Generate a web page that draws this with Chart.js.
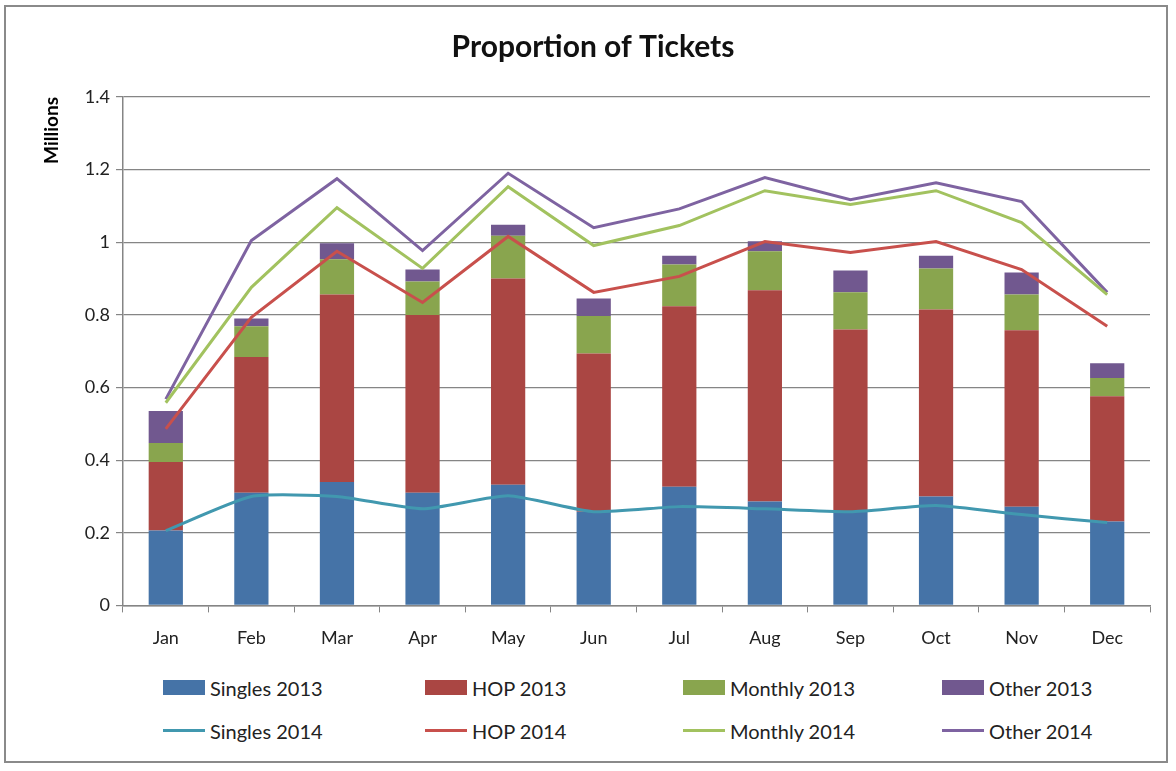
<!DOCTYPE html>
<html>
<head>
<meta charset="utf-8">
<script src="https://cdn.jsdelivr.net/npm/chart.js@4.4.1/dist/chart.umd.min.js"></script>
<style>
  html, body { margin: 0; padding: 0; background: #fff; }
  body { width: 1176px; height: 771px; position: relative; overflow: hidden; font-family: Lato, "Open Sans", sans-serif; }
  #frame { position: absolute; left: 4px; top: 5px; width: 1164px; height: 758px; border: 2px solid #8a8a8a; box-sizing: border-box; }
  #wrap { position: absolute; left: 0; top: 0; width: 1176px; height: 665px; }
  #legend { position: absolute; left: 163px; top: 666px; display: grid;
            grid-template-columns: 262px 258px 259px 220px; grid-auto-rows: 43px; }
  .item { display: flex; align-items: center; font-size: 20px; color: #222; }
  .swatch { width: 42px; height: 15px; margin-right: 5px; }
  .lineswatch { width: 42px; height: 3px; margin: 6px 5px 6px 0; }
</style>
</head>
<body>
<div id="frame"></div>
<div id="wrap"><canvas id="ticketsChart"></canvas></div>
<div id="legend"></div>
<script>
/* ===== Data (millions) ===== */
const months = ['Jan','Feb','Mar','Apr','May','Jun','Jul','Aug','Sep','Oct','Nov','Dec'];

// 2013 stacked bars (segment sizes)
const singles2013 = [0.206,0.310,0.340,0.310,0.332,0.258,0.327,0.286,0.258,0.300,0.272,0.231];
const hop2013     = [0.189,0.374,0.516,0.490,0.568,0.436,0.497,0.582,0.502,0.515,0.486,0.345];
const monthly2013 = [0.052,0.085,0.097,0.092,0.118,0.103,0.115,0.107,0.102,0.113,0.098,0.050];
const other2013   = [0.088,0.021,0.044,0.033,0.030,0.048,0.024,0.028,0.060,0.035,0.061,0.041];

// 2014 lines (running totals, as plotted)
const singles2014 = [0.206,0.300,0.300,0.266,0.302,0.258,0.272,0.266,0.258,0.275,0.250,0.228];
const hop2014     = [0.486,0.793,0.975,0.834,1.016,0.862,0.906,1.002,0.972,1.002,0.925,0.769];
const monthly2014 = [0.558,0.876,1.095,0.928,1.153,0.991,1.046,1.142,1.104,1.142,1.054,0.856];
const other2014   = [0.568,1.005,1.175,0.977,1.190,1.040,1.092,1.178,1.117,1.164,1.112,0.862];

const yTicks = [0, 0.2, 0.4, 0.6, 0.8, 1, 1.2, 1.4];

const FONT = 'Lato, "Open Sans", sans-serif';
const GRID = '#858585';

function barSet(label, data, color) {
  return { type: 'bar', label, data, backgroundColor: color, stack: 'y2013', order: 2,
           barPercentage: 0.4, categoryPercentage: 1.0, borderWidth: 0 };
}
function lineSet(label, data, color, tension) {
  return { type: 'line', label, data, borderColor: color, backgroundColor: color, stack: label,
           order: 1, borderWidth: 3, pointRadius: 0, tension: tension || 0, fill: false };
}

const datasets = [
  barSet('Singles 2013', singles2013, '#4573A7'),
  barSet('HOP 2013', hop2013, '#AA4643'),
  barSet('Monthly 2013', monthly2013, '#89A54E'),
  barSet('Other 2013', other2013, '#71588F'),
  lineSet('Singles 2014', singles2014, '#4198AF', 0.18),
  lineSet('HOP 2014', hop2014, '#C8504C'),
  lineSet('Monthly 2014', monthly2014, '#A2C25F'),
  lineSet('Other 2014', other2014, '#7E63A1'),
];

/* ===== Chart ===== */
const chart = new Chart(document.getElementById('ticketsChart'), {
  type: 'bar',
  data: { labels: months, datasets },
  options: {
    responsive: true,
    maintainAspectRatio: false,
    animation: false,
    layout: { padding: { left: 36, right: 26, top: 0, bottom: 1 } },
    plugins: {
      legend: { display: false },
      tooltip: { enabled: false },
      title: {
        display: true,
        text: 'Proportion of Tickets',
        color: '#111',
        font: { family: FONT, size: 30, weight: 'bold' },
        padding: { top: 29, bottom: 32 },
      },
    },
    scales: {
      x: {
        stacked: true,
        border: { color: GRID, width: 1.5 },
        grid: { offset: true, drawOnChartArea: false, drawTicks: true, tickLength: 7, color: GRID },
        ticks: { color: '#222', padding: 15, font: { family: FONT, size: 18 } },
      },
      y: {
        stacked: true,
        min: 0, max: 1.4,
        afterBuildTicks: (scale) => { scale.ticks = yTicks.map(v => ({ value: v })); },
        afterFit: (scale) => { scale.width = 87; },
        border: { color: GRID, width: 1.5 },
        grid: { color: GRID, lineWidth: 1.2, tickLength: 7 },
        ticks: { color: '#222', padding: 6, font: { family: FONT, size: 18 },
                 callback: v => String(v) },
        title: { display: true, text: 'Millions', align: 'end', color: '#000',
                 font: { family: FONT, size: 19, weight: 'bold' }, padding: { bottom: 4 } },
      },
    },
  },
});

/* ===== Legend (two rows: bars then lines) ===== */
const legend = document.getElementById('legend');
chart.data.datasets.forEach(ds => {
  const item = document.createElement('div');
  item.className = 'item';
  const sw = document.createElement('span');
  sw.className = ds.type === 'line' ? 'lineswatch' : 'swatch';
  sw.style.background = ds.type === 'line' ? ds.borderColor : ds.backgroundColor;
  const txt = document.createElement('span');
  txt.textContent = ds.label;
  item.appendChild(sw);
  item.appendChild(txt);
  legend.appendChild(item);
});
</script>
</body>
</html>
